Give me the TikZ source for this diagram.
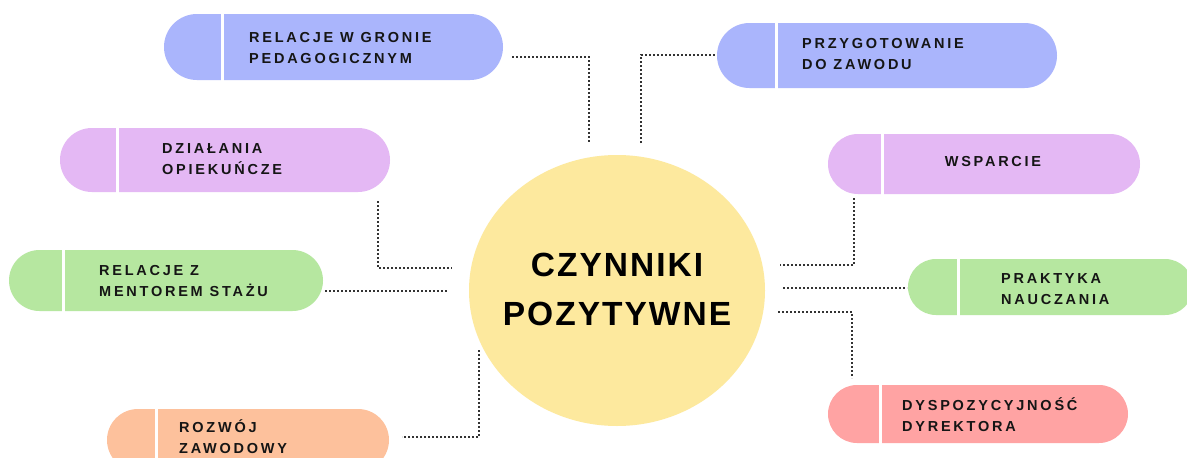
\documentclass[tikz,border=0pt]{standalone}
\usepackage{fontspec}
\usetikzlibrary{shapes.geometric}
\newfontfamily\pillfont[LetterSpace=19]{Liberation Sans}
\newfontfamily\hubfont[LetterSpace=6]{Liberation Sans}
\definecolor{cblue}{HTML}{AAB5FC}
\definecolor{clilac}{HTML}{E4B8F4}
\definecolor{cgreen}{HTML}{B6E7A0}
\definecolor{cpeach}{HTML}{FDC19C}
\definecolor{csalmon}{HTML}{FFA3A3}
\definecolor{cyellow}{HTML}{FDE99E}
\definecolor{cink}{HTML}{151515}
\definecolor{cdot}{HTML}{333333}
\newcommand\twolines[2]{\vtop{\baselineskip=21pt\hbox{#1}\hbox{#2}}}
\newcommand\centerlines[2]{\vtop{\baselineskip=49pt\hbox to 0pt{\hss#1\hss}\hbox to 0pt{\hss#2\hss}}}
\newcommand\mypill[6]{% color, x1, y1, x2, y2, divider x
  \pgfmathsetmacro\pillrad{(#5-#3)/2-0.01}
  \fill[#1,rounded corners=\pillrad pt] (#2,#3) rectangle (#4,#5);
  \draw[white,line width=3pt] (#6,{#3-1}) -- (#6,{#5+1});
}
\begin{document}
\begin{tikzpicture}[x=1pt,y=-1pt,
  pilltext/.style={inner sep=0pt,text=cink,font=\pillfont\bfseries\fontsize{14.5}{21}\selectfont},
  hubtext/.style={inner sep=0pt,text=black,font=\hubfont\bfseries\fontsize{33.5}{49}\selectfont},
  dotline/.style={cdot,line width=1.8pt,dash pattern=on 1.8pt off 2.2pt}]
\useasboundingbox (0,0) rectangle (1187,458);
\fill[white] (0,0) rectangle (1187,458);
% hub
\node[ellipse,fill=cyellow,minimum width=296pt,minimum height=271pt,inner sep=0pt] (hub) at (617,290.5) {};
\node[hubtext,anchor=base] (hubt) at (617,276) {\centerlines{CZYNNIKI}{POZYTYWNE}};
% pills
\mypill{cblue}{164}{14}{503}{80}{222}
\node[pilltext,anchor=base west] (p1) at (249,42) {\twolines{RELACJE W GRONIE}{PEDAGOGICZNYM}};
\mypill{cblue}{717}{23}{1057}{88}{776}
\node[pilltext,anchor=base west] (p2) at (802,48) {\twolines{PRZYGOTOWANIE}{DO ZAWODU}};
\mypill{clilac}{60}{128}{390}{192}{117}
\node[pilltext,anchor=base west] (p3) at (162,153) {\twolines{DZIAŁANIA}{OPIEKUŃCZE}};
\mypill{clilac}{828}{134}{1140}{194}{882}
\node[pilltext,anchor=base] (p4) at (993,166) {WSPARCIE};
\mypill{cgreen}{9}{250}{323}{311}{63}
\node[pilltext,anchor=base west] (p5) at (99,275) {\twolines{RELACJE Z}{MENTOREM STAŻU}};
\mypill{cgreen}{908}{259}{1193}{315}{958}
\node[pilltext,anchor=base west] (p6) at (1001,283) {\twolines{PRAKTYKA}{NAUCZANIA}};
\mypill{cpeach}{107}{409}{389}{471}{156}
\node[pilltext,anchor=base west] (p7) at (179,432) {\twolines{ROZWÓJ}{ZAWODOWY}};
\mypill{csalmon}{828}{385}{1128}{443}{880}
\node[pilltext,anchor=base west] (p8) at (902,410) {\twolines{DYSPOZYCYJNOŚĆ}{DYREKTORA}};
% connector endpoints
\coordinate (a1) at (512,57); \coordinate (b1) at (589,143);
\coordinate (a2) at (641,143); \coordinate (b2) at (715,55);
\coordinate (a3) at (378,201); \coordinate (b3) at (452,268);
\coordinate (a4) at (325,291); \coordinate (b4) at (447,291);
\coordinate (a5) at (854,198); \coordinate (b5) at (780,265);
\coordinate (a6) at (783,288); \coordinate (b6) at (907,288);
\coordinate (a7) at (778,312); \coordinate (b7) at (852,378);
\coordinate (a8) at (479,350); \coordinate (b8) at (402,437);
\draw[dotline] (a1) -| (b1);
\draw[dotline] (a2) |- (b2);
\draw[dotline] (a3) |- (b3);
\draw[dotline] (a4) -- (b4);
\draw[dotline] (a5) |- (b5);
\draw[dotline] (a6) -- (b6);
\draw[dotline] (a7) -| (b7);
\draw[dotline] (a8) |- (b8);
\end{tikzpicture}
\end{document}
